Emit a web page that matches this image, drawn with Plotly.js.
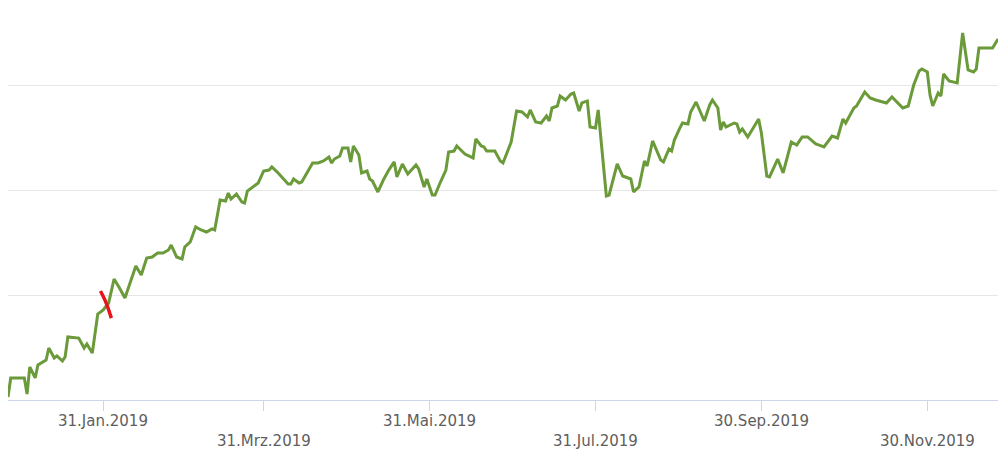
<!DOCTYPE html>
<html>
<head>
<meta charset="utf-8">
<script src="https://cdn.plot.ly/plotly-3.0.1.min.js"></script>
<style>
  html, body { margin: 0; padding: 0; background: #ffffff; }
  #chart { width: 1000px; height: 458px; }
</style>
</head>
<body>
<div id="chart"></div>
<script>
// Dates of the line points
const dates = [
  '2018-12-27','2018-12-28','2019-01-02','2019-01-03','2019-01-04','2019-01-06','2019-01-07','2019-01-10','2019-01-11','2019-01-13',
  '2019-01-14','2019-01-16','2019-01-17','2019-01-18','2019-01-22','2019-01-24','2019-01-25','2019-01-27','2019-01-29','2019-01-31',
  '2019-02-02','2019-02-04','2019-02-06','2019-02-08','2019-02-12','2019-02-14','2019-02-16','2019-02-18','2019-02-20','2019-02-22',
  '2019-02-24','2019-02-25','2019-02-27','2019-03-01','2019-03-02','2019-03-04','2019-03-06','2019-03-08','2019-03-10','2019-03-12',
  '2019-03-13','2019-03-15','2019-03-17','2019-03-18','2019-03-19','2019-03-21','2019-03-23','2019-03-24','2019-03-25','2019-03-26',
  '2019-03-29','2019-03-31','2019-04-02','2019-04-03','2019-04-05','2019-04-09','2019-04-10','2019-04-11','2019-04-13','2019-04-14',
  '2019-04-16','2019-04-18','2019-04-20','2019-04-22','2019-04-24','2019-04-25','2019-04-26','2019-04-28','2019-04-29','2019-05-01',
  '2019-05-02','2019-05-03','2019-05-05','2019-05-06','2019-05-08','2019-05-09','2019-05-10','2019-05-12','2019-05-14','2019-05-16',
  '2019-05-18','2019-05-19','2019-05-21','2019-05-23','2019-05-26','2019-05-27','2019-05-29','2019-05-30','2019-06-01','2019-06-02',
  '2019-06-04','2019-06-06','2019-06-07','2019-06-09','2019-06-10','2019-06-13','2019-06-16','2019-06-17','2019-06-19','2019-06-20',
  '2019-06-21','2019-06-24','2019-06-26','2019-06-27','2019-06-30','2019-07-02','2019-07-04','2019-07-06','2019-07-07','2019-07-09',
  '2019-07-11','2019-07-13','2019-07-14','2019-07-15','2019-07-17','2019-07-18','2019-07-20','2019-07-22','2019-07-23','2019-07-25',
  '2019-07-26','2019-07-28','2019-07-29','2019-07-31','2019-08-01','2019-08-04','2019-08-05','2019-08-06','2019-08-08','2019-08-10',
  '2019-08-12','2019-08-13','2019-08-14','2019-08-16','2019-08-18','2019-08-19','2019-08-21','2019-08-24','2019-08-25','2019-08-27',
  '2019-08-28','2019-08-29','2019-08-31','2019-09-01','2019-09-03','2019-09-04','2019-09-06','2019-09-08','2019-09-09','2019-09-11',
  '2019-09-12','2019-09-14','2019-09-15','2019-09-16','2019-09-17','2019-09-20','2019-09-21','2019-09-22','2019-09-23','2019-09-25',
  '2019-09-29','2019-09-30','2019-10-02','2019-10-03','2019-10-06','2019-10-08','2019-10-11','2019-10-13','2019-10-15','2019-10-17',
  '2019-10-20','2019-10-21','2019-10-23','2019-10-26','2019-10-28','2019-10-30','2019-10-31','2019-11-03','2019-11-04','2019-11-07',
  '2019-11-09','2019-11-11','2019-11-15','2019-11-17','2019-11-20','2019-11-21','2019-11-23','2019-11-24','2019-11-25','2019-11-27',
  '2019-11-28','2019-11-30','2019-12-01','2019-12-02','2019-12-04','2019-12-05','2019-12-06','2019-12-08','2019-12-11','2019-12-13',
  '2019-12-15','2019-12-17','2019-12-18','2019-12-19','2019-12-24','2019-12-26'
];

// Values of the line points (unlabelled y axis, grid lines at 10, 20, 30)
const values = [
  0.29, 2.10, 2.10, 0.57, 3.14, 2.10, 3.33, 3.81, 4.95, 4.00,
  4.19, 3.71, 4.10, 6.00, 5.90, 4.95, 5.33, 4.48, 8.19, 8.57,
  9.24, 11.52, 10.67, 9.71, 12.76, 11.90, 13.52, 13.62, 14.00, 14.00,
  14.29, 14.76, 13.62, 13.43, 14.57, 15.05, 16.48, 16.19, 16.00, 16.29,
  16.19, 19.05, 18.95, 19.71, 19.14, 19.62, 18.86, 18.76, 19.90, 20.10,
  20.67, 21.81, 21.90, 22.19, 21.71, 20.57, 20.57, 21.05, 20.67, 20.76,
  21.62, 22.57, 22.57, 22.76, 23.14, 22.57, 22.95, 23.24, 24.00, 24.00,
  22.67, 24.19, 23.33, 21.62, 21.81, 21.05, 20.86, 19.81, 20.95, 21.90,
  22.67, 21.24, 22.48, 21.52, 22.38, 22.00, 20.29, 21.05, 19.52, 19.52,
  20.76, 21.90, 23.62, 23.71, 24.19, 23.43, 23.05, 24.86, 24.19, 24.10,
  23.71, 23.71, 22.76, 22.57, 24.57, 27.52, 27.43, 26.95, 27.62, 26.48,
  26.38, 27.05, 26.57, 27.81, 28.00, 28.95, 28.57, 29.14, 29.24, 27.52,
  28.29, 28.48, 26.00, 25.90, 27.62, 19.43, 19.52, 20.48, 22.48, 21.33,
  21.14, 21.05, 19.81, 20.29, 22.76, 22.29, 24.67, 22.86, 22.67, 23.90,
  23.71, 24.76, 25.90, 26.38, 26.29, 27.43, 28.38, 27.14, 26.57, 28.10,
  28.57, 27.81, 25.71, 26.48, 26.00, 26.38, 26.29, 25.52, 25.81, 25.05,
  26.76, 25.43, 21.33, 21.24, 22.95, 21.62, 24.57, 24.29, 25.05, 25.05,
  24.38, 24.29, 24.10, 25.14, 24.95, 26.76, 26.38, 27.81, 28.00, 29.33,
  28.76, 28.57, 28.29, 28.86, 28.00, 27.81, 28.00, 29.14, 30.00, 31.33,
  31.52, 31.24, 29.05, 28.00, 29.24, 28.95, 31.05, 30.38, 30.19, 34.95,
  31.43, 31.24, 31.52, 33.52, 33.52, 34.38
];

// Red hand-drawn marker stroke
const markDates = ['2019-01-30', '2019-02-01', '2019-02-03'];
const markValues = [10.38, 9.30, 7.80];

// X axis ticks and labels
const tickDates = ['2019-01-31', '2019-03-31', '2019-05-31', '2019-07-31', '2019-09-30', '2019-11-30'];
const tickLabels = ['31.Jan.2019', '31.Mrz.2019', '31.Mai.2019', '31.Jul.2019', '30.Sep.2019', '30.Nov.2019'];

// Grid values on y
const gridValues = [10, 20, 30];

const traces = [
  {
    x: dates, y: values, type: 'scatter', mode: 'lines',
    line: { color: '#6b9a3a', width: 3, shape: 'linear' },
    hoverinfo: 'x+y', showlegend: false
  },
  {
    x: markDates, y: markValues, type: 'scatter', mode: 'lines',
    line: { color: '#e8141c', width: 3.5, shape: 'spline' },
    hoverinfo: 'skip', showlegend: false
  }
];

const annotations = tickDates.map((d, i) => ({
  x: d, xref: 'x', y: 0, yref: 'paper',
  yshift: i % 2 === 0 ? -21 : -41,
  xanchor: 'center', yanchor: 'middle',
  text: tickLabels[i], showarrow: false,
  font: { family: 'DejaVu Sans, sans-serif', size: 15, color: '#5e5e5e' }
}));

const layout = {
  width: 1000, height: 458,
  margin: { l: 8, r: 2, t: 0, b: 58 },
  paper_bgcolor: '#ffffff', plot_bgcolor: '#ffffff',
  showlegend: false,
  xaxis: {
    type: 'date',
    range: ['2018-12-27', '2019-12-26'],
    tickvals: tickDates, ticktext: tickLabels,
    showticklabels: false,
    ticks: 'outside', ticklen: 10, tickwidth: 1, tickcolor: '#ccd6eb',
    showgrid: false, zeroline: false,
    showline: true, linecolor: '#ccd6eb', linewidth: 1
  },
  yaxis: {
    range: [0, 38.095],
    tickvals: gridValues,
    showticklabels: false, ticks: '',
    showgrid: true, gridcolor: '#e6e6e6', gridwidth: 1,
    zeroline: false, showline: false
  },
  annotations: annotations
};

Plotly.newPlot('chart', traces, layout, { displayModeBar: false, staticPlot: true });
</script>
</body>
</html>
